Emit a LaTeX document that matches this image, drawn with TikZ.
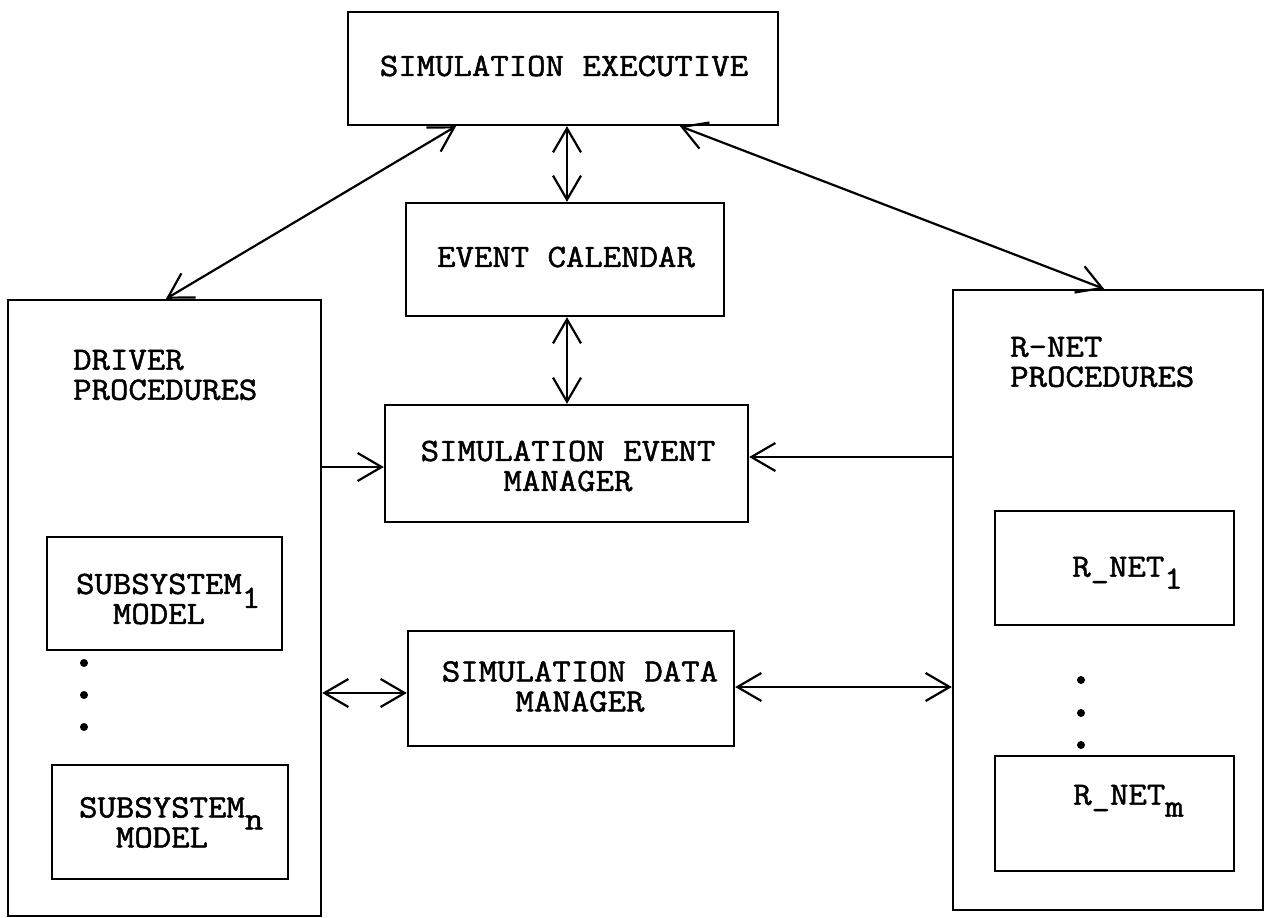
\documentclass[tikz,border=0pt]{standalone}
\usepackage{fontspec}
\newfontfamily\typewriter{Latin Modern Mono}[FakeStretch=1.1,FakeBold=1.5]
\usetikzlibrary{arrows.meta}
\begin{document}
\begin{tikzpicture}[x=1pt,y=-1pt,
  box/.style={draw, line width=2.4pt, inner sep=0pt, rectangle},
  lbl/.style={inner sep=0pt, font=\typewriter\fontsize{32.5}{30}\selectfont},
  dot/.style={circle, fill, inner sep=0pt, minimum size=8pt},
  conn/.style={line width=2.2pt, line cap=round},
  >={Straight Barb[length=24pt,width=28pt]}]
\useasboundingbox (0,0) rectangle (1264,918);

% central column
\node[box, minimum width=430pt, minimum height=113pt] (exec) at (563,68.5) {};
\node[box, minimum width=318pt, minimum height=113pt] (cal)  at (565,259.5) {};
\node[box, minimum width=363pt, minimum height=117pt] (sem)  at (566.5,463.5) {};
\node[box, minimum width=326pt, minimum height=115pt] (sdm)  at (571,688.5) {};

\node[lbl] (exectext) at (564,66) {SIMULATION EXECUTIVE};
\node[lbl] (caltext)  at (566,257) {EVENT CALENDAR};
\node[lbl, align=center] (semtext) at (568,466) {SIMULATION EVENT\\MANAGER};
\node[lbl, align=center] (sdmtext) at (580,686.5) {SIMULATION DATA\\MANAGER};

% driver procedures with subsystem models
\node[box, minimum width=313pt, minimum height=616pt] (driver) at (164.5,608) {};
\node[lbl, anchor=west, align=left] (drvtext) at (73,375) {DRIVER\\PROCEDURES};
\node[box, minimum width=235pt, minimum height=113pt] (sub1) at (164.5,593.5) {};
\node[lbl, align=center] (sub1text) at (159,599)
  {SUBSYSTEM\rlap{\smash{\raisebox{-14pt}{1}}}\\MODEL};
\node[dot] (ld1) at (84,663) {};
\node[dot] (ld2) at (84,695) {};
\node[dot] (ld3) at (84,727) {};
\node[box, minimum width=236pt, minimum height=114pt] (subn) at (170,822) {};
\node[lbl, align=center] (subntext) at (162,822.5)
  {SUBSYSTEM\rlap{\smash{\raisebox{-12pt}{n}}}\\MODEL};

% R-net procedures
\node[box, minimum width=310pt, minimum height=620pt] (rnet) at (1108,600) {};
\node[lbl, anchor=west, align=left] (rnettext) at (1010,362) {R-NET\\PROCEDURES};
\node[box, minimum width=239pt, minimum height=114pt] (rn1) at (1114.5,568) {};
\node[lbl, anchor=west] (rn1text) at (1072,570) {R\_NET\rlap{\smash{\raisebox{-12pt}{1}}}};
\node[dot] (rd1) at (1081,680) {};
\node[dot] (rd2) at (1081,713) {};
\node[dot] (rd3) at (1081,745) {};
\node[box, minimum width=239pt, minimum height=115pt] (rnm) at (1114.5,813.5) {};
\node[lbl, anchor=west] (rnmtext) at (1073,798) {R\_NET\rlap{\smash{\raisebox{-12pt}{m}}}};

% connectors
\draw[conn,<->] ([xshift=-107pt]exec.south) -- ([xshift=1.5pt]driver.north);
\draw[conn,<->] ([xshift=4pt]exec.south) -- ([xshift=2pt]cal.north);
\draw[conn,<->] ([xshift=117pt]exec.south) -- ([xshift=-4pt]rnet.north);
\draw[conn,<->] ([xshift=2pt]cal.south) -- ([xshift=0.5pt]sem.north);

\coordinate (semin) at ([yshift=-3.5pt]sem.west);
\coordinate (semout) at ([yshift=6.5pt]sem.east);
\coordinate (sdmin) at ([yshift=-4.5pt]sdm.west);
\coordinate (sdmout) at ([yshift=1.5pt]sdm.east);
\draw[conn,->] (semin -| driver.east) -- (semin);
\draw[conn,->] (semout -| rnet.west) -- (semout);
\draw[conn,<->] (sdmin -| driver.east) -- (sdmin);
\draw[conn,<->] (sdmout) -- (sdmout -| rnet.west);
\end{tikzpicture}
\end{document}
